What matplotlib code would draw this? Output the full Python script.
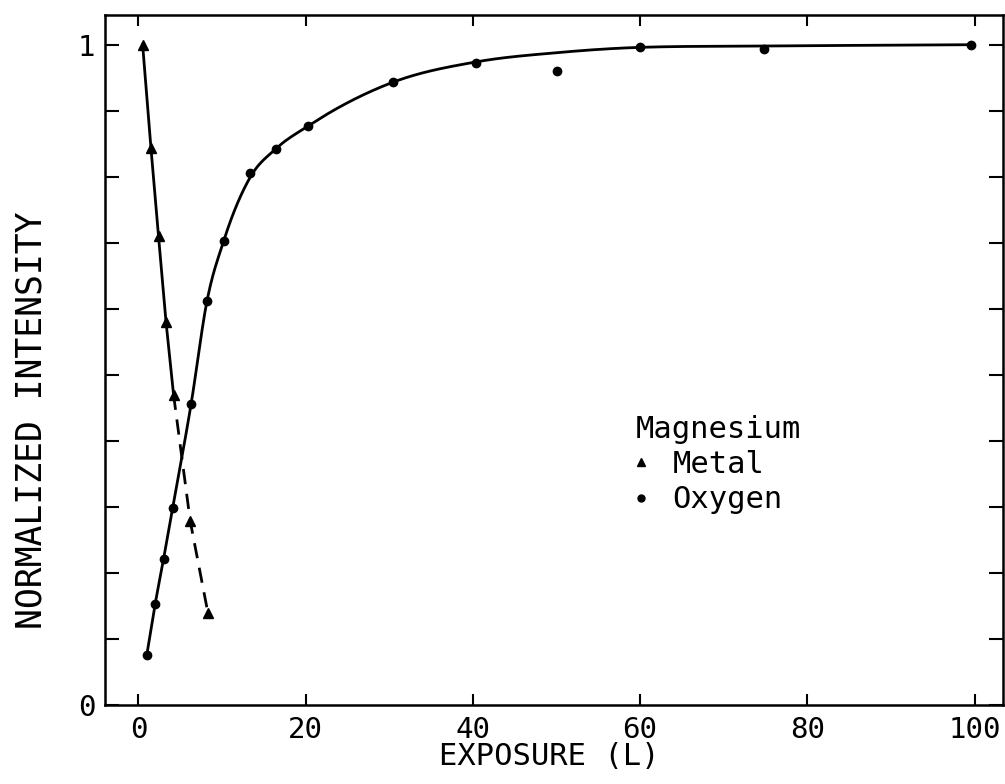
import numpy as np
import matplotlib
matplotlib.use("Agg")
import matplotlib.pyplot as plt
from matplotlib.lines import Line2D

# ---- data ----
metal_x = [0.5, 1.5, 2.4, 3.3, 4.2, 6.2, 8.3]
metal_y = [1.00, 0.843, 0.71, 0.58, 0.47, 0.278, 0.14]

oxygen_x = [1.0, 2.0, 3.0, 4.1, 6.3, 8.2, 10.2, 13.4, 16.4, 20.3, 30.4, 40.4, 50.1, 60.0, 74.8, 99.6]
oxygen_y = [0.076, 0.153, 0.221, 0.299, 0.456, 0.612, 0.703, 0.805, 0.842, 0.877, 0.943, 0.973, 0.96, 0.997, 0.993, 1.0]

# drawn smooth guide curve for oxygen
fit_x = [1.0, 2.0, 3.0, 4.1, 6.3, 8.2, 10.2, 13.4, 16.4, 20.3, 30.4, 40.4, 50.1, 60.0, 74.8, 99.6]
fit_y = [0.076, 0.153, 0.221, 0.299, 0.456, 0.612, 0.703, 0.800, 0.842, 0.877, 0.943, 0.974, 0.988, 0.996, 0.998, 1.0]

x_ticks = [0, 20, 40, 60, 80, 100]
y_ticks = [0, 0.1, 0.2, 0.3, 0.4, 0.5, 0.6, 0.7, 0.8, 0.9, 1.0]
y_tick_labels = ["0", "", "", "", "", "", "", "", "", "", "1"]


def smooth_curve(x, y, xn):
    """Monotone cubic Hermite through the guide points (three-point slopes, limited)."""
    x = np.asarray(x, float); y = np.asarray(y, float)
    h = np.diff(x); d = np.diff(y) / h
    n = len(x); m = np.zeros(n)
    for k in range(1, n - 1):
        if d[k - 1] * d[k] > 0:
            mk = (h[k] * d[k - 1] + h[k - 1] * d[k]) / (h[k - 1] + h[k])
            lim = 3 * min(abs(d[k - 1]), abs(d[k]))
            m[k] = np.sign(mk) * min(abs(mk), lim)
    m[0] = d[0]; m[-1] = d[-1]
    idx = np.clip(np.searchsorted(x, xn) - 1, 0, n - 2)
    t = (xn - x[idx]) / h[idx]
    h00 = 2 * t**3 - 3 * t**2 + 1; h10 = t**3 - 2 * t**2 + t
    h01 = -2 * t**3 + 3 * t**2; h11 = t**3 - t**2
    return h00 * y[idx] + h10 * h[idx] * m[idx] + h01 * y[idx + 1] + h11 * h[idx] * m[idx + 1]


plt.rcParams['font.family'] = ['DejaVu Sans Mono', 'DejaVu Sans']
W, H = 1005, 784
fig = plt.figure(figsize=(W / 100, H / 100), dpi=100)
ax = fig.add_axes([105 / W, 1 - 705 / H, 898 / W, 690 / H])

# oxygen curve + points
xs = np.linspace(fit_x[0], fit_x[-1], 1000)
ax.plot(xs, smooth_curve(fit_x, fit_y, xs), color='black', lw=2.0)
ax.plot(oxygen_x, oxygen_y, ls='none', marker='o', ms=6, color='black')

# metal line: solid then dashed
ax.plot(metal_x[:5], metal_y[:5], color='black', lw=2.0)
ax.plot(metal_x[4:], metal_y[4:], color='black', lw=2.0, dashes=(5.5, 3.5))
ax.plot(metal_x, metal_y, ls='none', marker='^', ms=7, color='black')

ax.set_xlim(-4.0, 103.4)
ax.set_ylim(0, 1.045)
ax.set_xticks(x_ticks)
ax.set_xticklabels([str(v) for v in x_ticks])
ax.set_yticks(y_ticks)
ax.set_yticklabels(y_tick_labels)

ax.tick_params(axis='both', direction='in', top=True, right=True,
               width=1.5, labelsize=21, colors='black')
ax.tick_params(axis='x', length=8, pad=8)
ax.tick_params(axis='y', length=10, pad=7)
for s in ax.spines.values():
    s.set_linewidth(1.8)

ax.set_xlabel("EXPOSURE (L)", fontsize=22)
ax.xaxis.set_label_coords(0.495, -0.0536)
ax.set_ylabel("NORMALIZED INTENSITY", fontsize=25)
ax.yaxis.set_label_coords(-0.063, 0.413)

handles = [Line2D([], [], ls='none', marker='^', ms=6, color='black'),
           Line2D([], [], ls='none', marker='o', ms=5, color='black')]
leg = ax.legend(handles, ["Metal", "Oxygen"], title="Magnesium",
                loc='upper left', bbox_to_anchor=((636 - 105) / 898, (705 - 415) / 690),
                frameon=False, fontsize=22, title_fontsize=22,
                handlelength=0.35, handletextpad=0.85, labelspacing=0.2,
                borderpad=0, borderaxespad=0, alignment='left')

fig.savefig("out.png", dpi=100)
